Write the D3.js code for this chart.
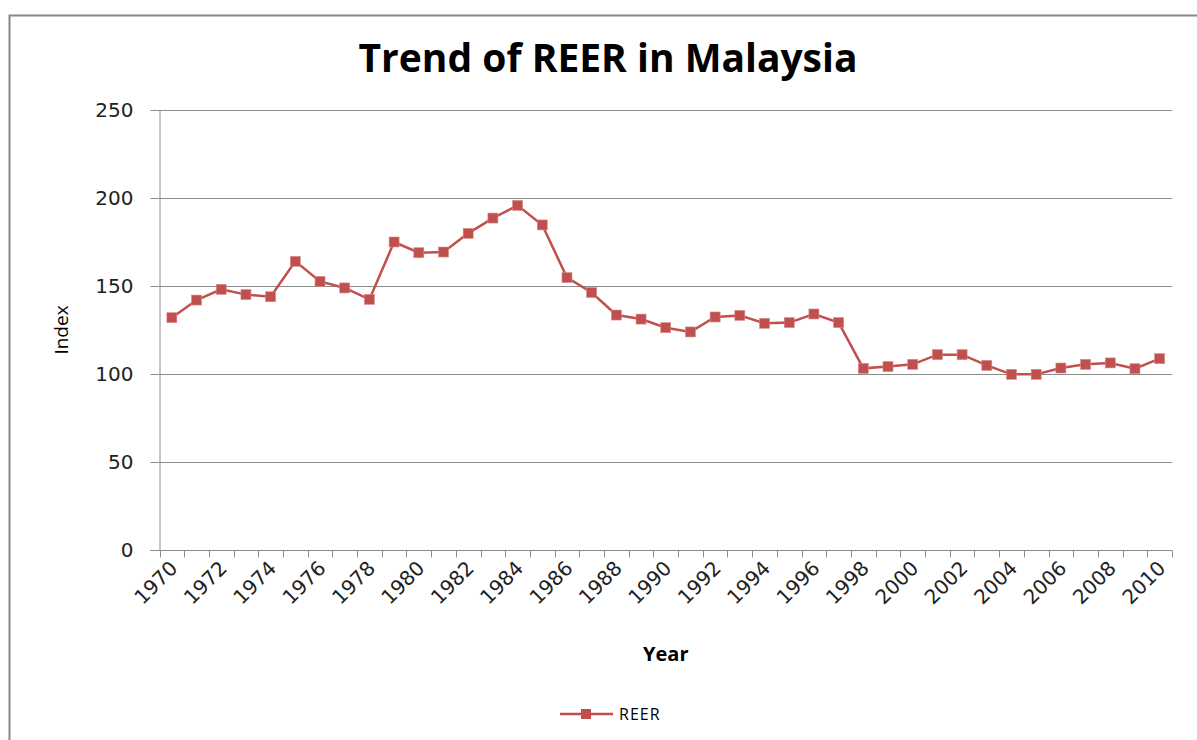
<!DOCTYPE html>
<html>
<head>
<meta charset="utf-8">
<script src="https://d3js.org/d3.v7.min.js"></script>
<style>
  body { margin: 0; background: #fff; }
  svg { display: block; }
</style>
</head>
<body>
<div class="root"></div>
<script>
var years = ["1970","1971","1972","1973","1974","1975","1976","1977","1978","1979",
  "1980","1981","1982","1983","1984","1985","1986","1987","1988","1989",
  "1990","1991","1992","1993","1994","1995","1996","1997","1998","1999",
  "2000","2001","2002","2003","2004","2005","2006","2007","2008","2009","2010"];
var reer = [132, 142, 148.1, 145.1, 143.9, 164, 152.6, 148.9, 142.4, 175,
  168.9, 169.3, 179.9, 188.6, 195.8, 184.7, 154.8, 146.3, 133.5, 131.2,
  126.3, 123.9, 132.4, 133.3, 128.8, 129.2, 134.1, 129.2, 103.2, 104.2,
  105.5, 111, 111, 104.9, 99.8, 99.8, 103.4, 105.5, 106.3, 103, 108.7];
var yTicks = [0, 50, 100, 150, 200, 250];
var labelYears = years.filter(function (d, i) { return i % 2 === 0; });

var width = 1197;
var height = 740;
var color = "#C0504D";
var gridColor = "#8c8c8c";

var svg = d3.select(".root").append("svg")
  .attr("width", width)
  .attr("height", height);

// chart frame
svg.append("rect")
  .attr("x", 9.5)
  .attr("y", 15.5)
  .attr("width", 1200)
  .attr("height", 740)
  .attr("fill", "none")
  .attr("stroke", "#888")
  .attr("stroke-width", 2);

var plot = { left: 159.5, right: 1172, top: 110, bottom: 550 };

var x = d3.scaleBand()
  .domain(years)
  .range([plot.left, plot.right])
  .padding(0);

var y = d3.scaleLinear()
  .domain([0, 250])
  .range([plot.bottom, plot.top]);

// gridlines
svg.append("g")
  .attr("class", "grid")
  .selectAll("line")
  .data(yTicks.filter(function (d) { return d > 0; }))
  .enter().append("line")
  .attr("x1", plot.left)
  .attr("x2", plot.right)
  .attr("y1", function (d) { return Math.round(y(d)) + 0.5; })
  .attr("y2", function (d) { return Math.round(y(d)) + 0.5; })
  .attr("stroke", gridColor)
  .attr("stroke-width", 1);

// y axis
var yAxis = svg.append("g")
  .attr("transform", "translate(" + plot.left + ",0)")
  .call(d3.axisLeft(y).tickValues(yTicks).tickSize(9).tickPadding(17)
    .tickFormat(d3.format("d")));
yAxis.select(".domain").attr("stroke", gridColor);
yAxis.selectAll(".tick line").attr("stroke", gridColor);
yAxis.selectAll(".tick text")
  .attr("fill", "#222")
  .style("font-family", "DejaVu Sans")
  .style("font-size", "20px");

// x axis: ticks at category edges
var xAxisG = svg.append("g")
  .attr("transform", "translate(0," + (Math.round(y(0)) + 0.5) + ")");
xAxisG.append("line")
  .attr("x1", plot.left - 9)
  .attr("x2", plot.right)
  .attr("stroke", gridColor);
xAxisG.selectAll(".xtick")
  .data(years.concat(["end"]))
  .enter().append("line")
  .attr("class", "xtick")
  .attr("x1", function (d, i) { return Math.round(plot.left + i * x.bandwidth()) + 0.5; })
  .attr("x2", function (d, i) { return Math.round(plot.left + i * x.bandwidth()) + 0.5; })
  .attr("y1", 0)
  .attr("y2", 7)
  .attr("stroke", gridColor);
xAxisG.selectAll(".xlabel")
  .data(labelYears)
  .enter().append("text")
  .attr("class", "xlabel")
  .attr("transform", function (d) {
    return "translate(" + (x(d) + x.bandwidth() / 2 + 7) + ",19) rotate(-45)";
  })
  .attr("text-anchor", "end")
  .attr("fill", "#222")
  .style("font-family", "DejaVu Sans")
  .style("font-size", "20px")
  .text(function (d) { return d; });

// series line
var line = d3.line()
  .x(function (d, i) { return x(years[i]) + x.bandwidth() / 2; })
  .y(function (d) { return y(d); });

svg.append("path")
  .datum(reer)
  .attr("fill", "none")
  .attr("stroke", color)
  .attr("stroke-width", 2.5)
  .attr("d", line);

svg.append("g")
  .selectAll("rect")
  .data(reer)
  .enter().append("rect")
  .attr("x", function (d, i) { return x(years[i]) + x.bandwidth() / 2 - 5; })
  .attr("y", function (d) { return y(d) - 5; })
  .attr("width", 10)
  .attr("height", 10)
  .attr("fill", color)
  .attr("stroke", "#d98a88")
  .attr("stroke-width", 0.6);

// title and axis titles
svg.append("text")
  .attr("x", 608)
  .attr("y", 72)
  .attr("text-anchor", "middle")
  .style("font-family", "Open Sans")
  .style("font-weight", "bold")
  .style("font-size", "39px")
  .text("Trend of REER in Malaysia");

svg.append("text")
  .attr("x", (plot.left + plot.right) / 2)
  .attr("y", 661)
  .attr("text-anchor", "middle")
  .style("font-family", "Open Sans")
  .style("font-weight", "bold")
  .style("font-size", "20px")
  .text("Year");

svg.append("text")
  .attr("transform", "translate(68," + ((plot.top + plot.bottom) / 2) + ") rotate(-90)")
  .attr("text-anchor", "middle")
  .style("font-family", "Open Sans")
  .style("font-size", "19px")
  .text("Index");

// legend
var legend = svg.append("g").attr("transform", "translate(560,714)");
legend.append("line")
  .attr("x1", 0)
  .attr("x2", 53)
  .attr("stroke", color)
  .attr("stroke-width", 2.5);
legend.append("rect")
  .attr("x", 21)
  .attr("y", -5)
  .attr("width", 10)
  .attr("height", 10)
  .attr("fill", color);
legend.append("text")
  .attr("x", 59)
  .attr("y", 6)
  .style("font-family", "Open Sans")
  .style("font-size", "16px")
  .style("letter-spacing", "1px")
  .text("REER");
</script>
</body>
</html>
